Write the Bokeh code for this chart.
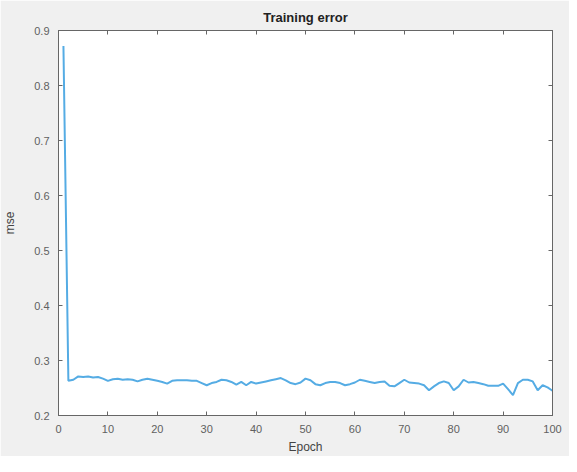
from bokeh.plotting import figure
from bokeh.models import LinearAxis, Range1d, SingleIntervalTicker, CustomJSTickFormatter
from bokeh.embed import file_html
from bokeh.resources import INLINE

epochs = list(range(1, 101))
mse = [
    0.872, 0.263, 0.265, 0.271, 0.270, 0.271, 0.269, 0.270, 0.267, 0.263,
    0.266, 0.267, 0.265, 0.266, 0.265, 0.262, 0.265, 0.267, 0.265, 0.263,
    0.261, 0.258, 0.263, 0.264, 0.264, 0.264, 0.263, 0.263, 0.259, 0.255,
    0.259, 0.261, 0.265, 0.264, 0.261, 0.256, 0.261, 0.255, 0.261, 0.258,
    0.260, 0.262, 0.264, 0.266, 0.268, 0.264, 0.259, 0.257, 0.260, 0.267,
    0.264, 0.257, 0.255, 0.259, 0.261, 0.261, 0.259, 0.255, 0.257, 0.260,
    0.265, 0.263, 0.261, 0.259, 0.261, 0.262, 0.254, 0.253, 0.259, 0.265,
    0.260, 0.259, 0.258, 0.255, 0.246, 0.253, 0.259, 0.262, 0.259, 0.246,
    0.253, 0.265, 0.260, 0.261, 0.259, 0.257, 0.254, 0.254, 0.254, 0.258,
    0.248, 0.237, 0.259, 0.265, 0.265, 0.262, 0.246, 0.255, 0.251, 0.245,
]
x_ticks_step = 10
y_ticks_step = 0.1
title_text = "Training error"
x_label = "Epoch"
y_label = "mse"

FONT = "Liberation Sans"
AX = "#666666"

p = figure(width=569, height=456, output_backend="svg", toolbar_location=None,
           x_range=Range1d(0, 100), y_range=Range1d(0.2, 0.9),
           min_border_left=58, min_border_right=17, min_border_top=30,
           min_border_bottom=36, title=title_text)
p.border_fill_color = "#f0f0f0"
p.background_fill_color = "white"
p.outline_line_color = AX
p.xgrid.visible = False
p.ygrid.visible = False

p.title.align = "center"
p.title.text_font = FONT
p.title.text_font_size = "13px"
p.title.text_font_style = "bold"
p.title.text_color = "#222222"
p.title.standoff = 3

def style(ax, labels=True):
    ax.axis_line_color = AX
    ax.major_tick_line_color = AX
    ax.major_tick_in = 4
    ax.major_tick_out = 0
    ax.minor_tick_line_color = None
    ax.major_label_text_font = FONT
    ax.major_label_text_color = "#606060"
    ax.major_label_text_font_size = "11px"
    if labels:
        ax.major_label_standoff = 5
    else:
        ax.formatter = CustomJSTickFormatter(code="return ''")
        ax.major_label_standoff = 0
    ax.axis_label_text_font = FONT
    ax.axis_label_text_font_size = "12px"
    ax.axis_label_text_font_style = "normal"
    ax.axis_label_text_color = "#444444"

p.xaxis.ticker = SingleIntervalTicker(interval=x_ticks_step)
p.yaxis.ticker = SingleIntervalTicker(interval=y_ticks_step)
p.xaxis.axis_label = x_label
p.yaxis.axis_label = y_label
style(p.xaxis[0])
style(p.yaxis[0])
p.xaxis.axis_label_standoff = 4
p.yaxis.axis_label_standoff = 14

top = LinearAxis(ticker=SingleIntervalTicker(interval=x_ticks_step))
right = LinearAxis(ticker=SingleIntervalTicker(interval=y_ticks_step))
style(top, labels=False)
style(right, labels=False)
p.add_layout(top, "above")
p.add_layout(right, "right")

p.line(epochs, mse, line_color="#55ace4", line_width=2)

open("out.html", "w").write(file_html(p, INLINE))
